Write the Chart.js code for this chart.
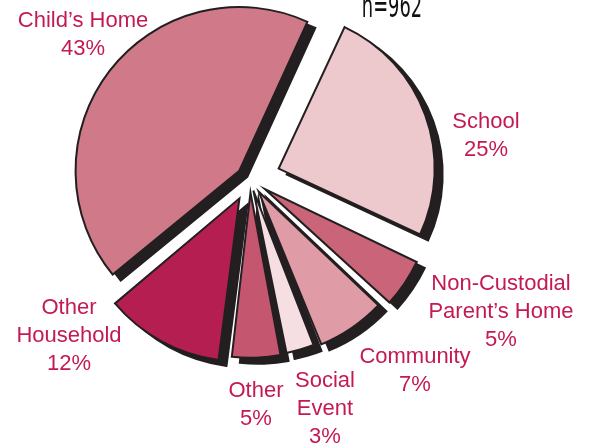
<!DOCTYPE html>
<html>
<head>
<meta charset="utf-8">
<script src="https://cdn.jsdelivr.net/npm/chart.js@4"></script>
<style>
  html, body { margin: 0; padding: 0; background: #fff; }
</style>
</head>
<body>
<canvas id="pie" width="592" height="448"></canvas>
<script>
// ------------------ data (clockwise, starting with School) ------------------
const CATEGORIES = ["School", "Non-Custodial Parent’s Home", "Community", "Social Event", "Other", "Other Household", "Child’s Home"];
const PERCENTS = [25, 5, 7, 3, 5, 12, 43];
const SAMPLE_N = 962;

// how each category name is broken into lines for its label
const NAME_LINES = [
  ["School"],
  ["Non-Custodial", "Parent’s Home"],
  ["Community"],
  ["Social", "Event"],
  ["Other"],
  ["Other", "Household"],
  ["Child’s Home"]
];

// ------------------ style ------------------
const SLICE_COLORS = ["#edc8cc", "#ca6479", "#df9ba6", "#f6dfe2", "#c4566f", "#b51e50", "#d07a89"];
const SLICE_OFFSETS = [122, 72, 62, 48, 54, 88, 54];   // exploded distance (chart.js units)
const OUTLINE = "#231f20";
const LABEL_COLOR = "#c41a52";
const LABEL_FONT = "22px 'Liberation Sans', Arial, sans-serif";
const LINE_H = 28;
// label anchor: center x, first baseline
const LABEL_POS = [[486, 128], [501, 290], [415, 363], [325, 387], [256, 397], [69, 314], [83, 27]];

// ------------------ plugins ------------------
// solid drop shadow: every wedge drawn once in dark, shifted, before the real ones
const shadowPlugin = {
  id: "shadowPlugin",
  beforeDatasetsDraw(chart) {
    const ctx = chart.ctx;
    const meta = chart.getDatasetMeta(0);
    ctx.save();
    ctx.translate(8, 6);
    meta.data.forEach(arc => {
      const orig = arc.options;
      arc.options = Object.assign({}, orig, { backgroundColor: OUTLINE, borderColor: OUTLINE });
      arc.draw(ctx);
      arc.options = orig;
    });
    ctx.restore();
  }
};

const labelPlugin = {
  id: "labelPlugin",
  afterDraw(chart) {
    const ctx = chart.ctx;
    ctx.save();
    ctx.fillStyle = LABEL_COLOR;
    ctx.font = LABEL_FONT;
    ctx.textAlign = "center";
    ctx.textBaseline = "alphabetic";
    NAME_LINES.forEach((lines, i) => {
      const [x, y] = LABEL_POS[i];
      const all = lines.concat([PERCENTS[i] + "%"]);
      all.forEach((t, k) => ctx.fillText(t, x, y + k * LINE_H));
    });

    // sample size, narrow face, partly cut at top edge
    ctx.fillStyle = "#111";
    ctx.font = "32px 'DejaVu Sans Condensed', 'DejaVu Sans', sans-serif";
    ctx.translate(392, 17);
    ctx.scale(0.62, 1);
    ctx.fillText("n=" + SAMPLE_N, 0, 0);
    ctx.restore();
  }
};

// ------------------ chart ------------------
new Chart(document.getElementById("pie").getContext("2d"), {
  type: "pie",
  data: {
    labels: CATEGORIES,
    datasets: [{
      data: PERCENTS,
      backgroundColor: SLICE_COLORS,
      borderColor: OUTLINE,
      borderWidth: 2,
      borderJoinStyle: "miter",
      offset: SLICE_OFFSETS,
      radius: 156,
      clip: false
    }]
  },
  options: {
    responsive: false,
    animation: false,
    events: [],
    rotation: 25,
    layout: { padding: { left: 0, top: 0, right: 92, bottom: 90 } },
    plugins: { legend: { display: false }, tooltip: { enabled: false } }
  },
  plugins: [shadowPlugin, labelPlugin]
});
</script>
</body>
</html>
